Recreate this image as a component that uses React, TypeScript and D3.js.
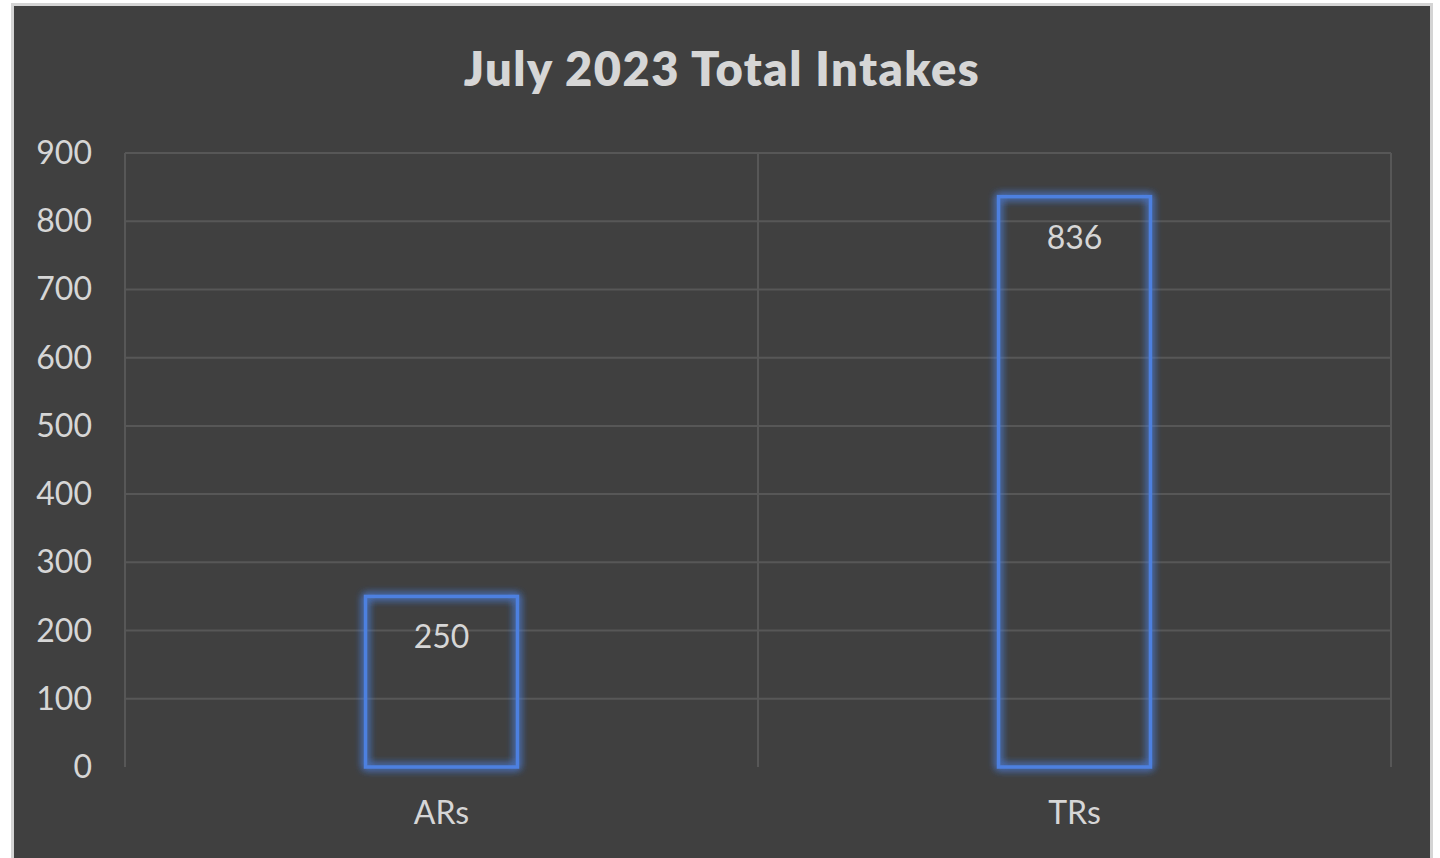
import React from "react";
import * as d3 from "d3";

const categories = ["ARs", "TRs"];
const values = [250, 836];
const yTicks = [0, 100, 200, 300, 400, 500, 600, 700, 800, 900];
const title = "July 2023 Total Intakes";

export default function App() {
  const W = 1440, H = 858;
  const plot = { left: 125, right: 1391, top: 153, bottom: 767 };
  const x = d3.scaleBand<string>().domain(categories).range([plot.left, plot.right]).padding(0);
  const y = d3.scaleLinear().domain([0, 900]).range([plot.bottom, plot.top]);
  const barW = x.bandwidth() * 0.24;
  const gridColor = "#575757";
  const textColor = "#d6d6d6";
  const font = "Lato, 'Open Sans', sans-serif";

  return (
    <svg width={W} height={H} style={{ position: "fixed", left: 0, top: 0, background: "#ffffff" }}>
      <defs>
        <filter id="glow" x="-20%" y="-20%" width="140%" height="140%">
          <feGaussianBlur in="SourceGraphic" stdDeviation="4" result="b" />
          <feMerge>
            <feMergeNode in="b" />
            <feMergeNode in="b" />
            <feMergeNode in="SourceGraphic" />
          </feMerge>
        </filter>
      </defs>
      <rect x={12.5} y={4.5} width={1419} height={860} fill="#404040" stroke="#d4d4d4" strokeWidth={3} />
      <text
        x={722}
        y={86}
        textAnchor="middle"
        fill={textColor}
        fontFamily={font}
        fontWeight={800}
        fontSize={47}
        letterSpacing={1.5}
      >
        {title}
      </text>
      {yTicks.map((t) => (
        <g key={t}>
          {t > 0 && (
            <line x1={plot.left} x2={plot.right} y1={y(t)} y2={y(t)} stroke={gridColor} strokeWidth={2} />
          )}
          <text x={92} y={y(t) + 11} textAnchor="end" fill={textColor} fontFamily={font} fontSize={32}>
            {t}
          </text>
        </g>
      ))}
      <line x1={plot.left} x2={plot.left} y1={plot.top} y2={plot.bottom} stroke={gridColor} strokeWidth={2} />
      <line x1={plot.right} x2={plot.right} y1={plot.top} y2={plot.bottom} stroke={gridColor} strokeWidth={2} />
      {categories.slice(1).map((c) => (
        <line key={c} x1={x(c)!} x2={x(c)!} y1={plot.top} y2={plot.bottom} stroke={gridColor} strokeWidth={2} />
      ))}
      {categories.map((c, i) => {
        const cx = x(c)! + x.bandwidth() / 2;
        return (
          <g key={c}>
            <rect
              x={cx - barW / 2}
              y={y(values[i])}
              width={barW}
              height={y(0) - y(values[i])}
              fill="none"
              stroke="#4d80e0"
              strokeWidth={3.5}
              filter="url(#glow)"
            />
            <text x={cx} y={y(values[i]) + 52} textAnchor="middle" fill={textColor} fontFamily={font} fontSize={32}>
              {values[i]}
            </text>
            <text x={cx} y={824} textAnchor="middle" fill={textColor} fontFamily={font} fontSize={32}>
              {c}
            </text>
          </g>
        );
      })}
    </svg>
  );
}
